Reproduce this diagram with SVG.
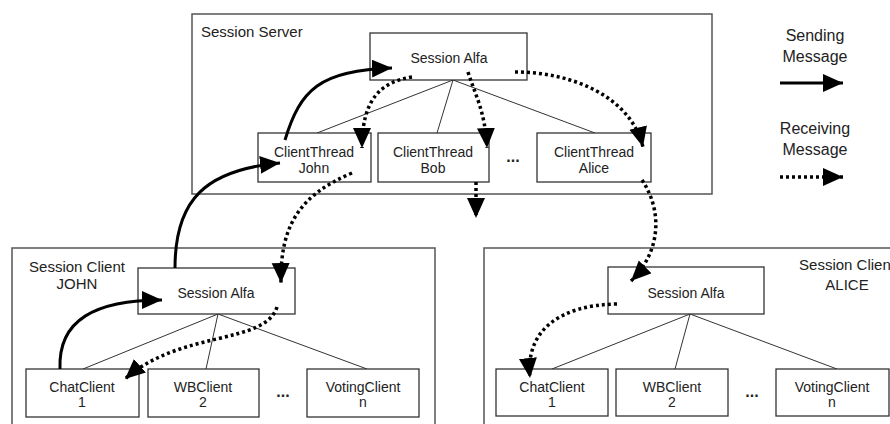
<svg xmlns="http://www.w3.org/2000/svg" width="890" height="424" viewBox="0 0 890 424">
<style>
.frame{fill:none;stroke:#555;stroke-width:1.5}
.box{fill:#fff;stroke:#333;stroke-width:1.3}
.link{stroke:#333;stroke-width:1;fill:none}
.send{stroke:#000;stroke-width:3;fill:none}
.recv{stroke:#000;stroke-width:3.5;fill:none;stroke-dasharray:3 3}
text{font-family:"Liberation Sans",Arial,sans-serif;font-size:14px;fill:#222}
.c{text-anchor:middle}
.lg{font-size:16px}
.dots{font-size:16px;font-weight:bold}
</style>
<defs>
<marker id="ah" markerUnits="userSpaceOnUse" markerWidth="22" markerHeight="20" refX="20" refY="9" orient="auto" viewBox="0 0 22 20">
<path d="M0,0 L20,9 L0,18 z" fill="#000"/>
</marker>
</defs>
<rect width="890" height="424" fill="#fff"/>

<g id="session-server">
<rect class="frame" x="192" y="14" width="520" height="180"/>
<text x="201" y="37" style="font-size:15px">Session Server</text>
</g>
<g id="session-client-john">
<rect class="frame" x="12" y="248" width="423" height="200"/>
<text class="c" x="77" y="272" style="font-size:15px">Session Client</text>
<text class="c" x="77" y="289" style="font-size:15px">JOHN</text>
</g>
<g id="session-client-alice">
<rect class="frame" x="484" y="248" width="420" height="200"/>
<text class="c" x="847" y="270" style="font-size:15px">Session Client</text>
<text class="c" x="847" y="290" style="font-size:15px">ALICE</text>
</g>

<g id="links">
<path class="link" d="M453,80 L317,133 M453,80 L437,133 M453,80 L595,133"/>
<path class="link" d="M218,314 L83,369 M218,314 L206,369 M218,314 L367,369"/>
<path class="link" d="M690,314 L552,369 M690,314 L675,369 M690,314 L837,369"/>
</g>

<g id="server-alfa">
<rect class="box" x="370" y="33" width="157" height="47"/>
<text class="c" x="449" y="63">Session Alfa</text>
</g>
<g id="ct-john">
<rect class="box" x="258" y="133" width="113" height="49"/>
<text class="c" x="314" y="157">ClientThread</text>
<text class="c" x="314" y="173">John</text>
</g>
<g id="ct-bob">
<rect class="box" x="378" y="133" width="111" height="49"/>
<text class="c" x="433" y="157">ClientThread</text>
<text class="c" x="433" y="173">Bob</text>
</g>
<text class="dots c" x="513" y="162">...</text>
<g id="ct-alice">
<rect class="box" x="537" y="133" width="114" height="49"/>
<text class="c" x="594" y="157">ClientThread</text>
<text class="c" x="594" y="173">Alice</text>
</g>

<g id="john-alfa">
<rect class="box" x="138" y="268" width="157" height="46"/>
<text class="c" x="216" y="298">Session Alfa</text>
</g>
<g id="john-chat">
<rect class="box" x="26" y="369" width="113" height="48"/>
<text class="c" x="82" y="392">ChatClient</text>
<text class="c" x="82" y="407">1</text>
</g>
<g id="john-wb">
<rect class="box" x="148" y="369" width="111" height="48"/>
<text class="c" x="203" y="392">WBClient</text>
<text class="c" x="203" y="407">2</text>
</g>
<text class="dots c" x="283" y="397">...</text>
<g id="john-voting">
<rect class="box" x="307" y="369" width="112" height="48"/>
<text class="c" x="363" y="392">VotingClient</text>
<text class="c" x="363" y="407">n</text>
</g>

<g id="alice-alfa">
<rect class="box" x="608" y="267" width="156" height="47"/>
<text class="c" x="686" y="298">Session Alfa</text>
</g>
<g id="alice-chat">
<rect class="box" x="496" y="369" width="112" height="47"/>
<text class="c" x="552" y="392">ChatClient</text>
<text class="c" x="552" y="407">1</text>
</g>
<g id="alice-wb">
<rect class="box" x="616" y="369" width="112" height="47"/>
<text class="c" x="672" y="392">WBClient</text>
<text class="c" x="672" y="407">2</text>
</g>
<text class="dots c" x="752" y="397">...</text>
<g id="alice-voting">
<rect class="box" x="776" y="369" width="113" height="47"/>
<text class="c" x="832" y="392">VotingClient</text>
<text class="c" x="832" y="407">n</text>
</g>

<g id="connectors">
<path class="send" marker-end="url(#ah)" d="M60,369 C58,320 95,300 162,300"/>
<path class="send" marker-end="url(#ah)" d="M175,268 C175,200 205,170 280,163"/>
<path class="send" marker-end="url(#ah)" d="M285,140 C300,90 320,70 392,68"/>
<path class="recv" marker-end="url(#ah)" d="M412,77 C380,82 362,100 362,148"/>
<path class="recv" marker-end="url(#ah)" d="M468,72 C475,95 485,110 487,148"/>
<path class="recv" marker-end="url(#ah)" d="M515,72 C570,72 630,95 643,147"/>
<path class="recv" marker-end="url(#ah)" d="M476,182 L476,218"/>
<path class="recv" marker-end="url(#ah)" d="M352,173 C300,195 280,225 281,283"/>
<path class="recv" marker-end="url(#ah)" d="M277,307 C265,345 180,330 125,379"/>
<path class="recv" marker-end="url(#ah)" d="M642,180 C662,210 662,250 631,281"/>
<path class="recv" marker-end="url(#ah)" d="M617,304 C560,305 525,330 530,378"/>
</g>

<g id="legend">
<text class="c lg" x="815" y="41">Sending</text>
<text class="c lg" x="815" y="62">Message</text>
<path class="send" marker-end="url(#ah)" d="M780,83 L843,83"/>
<text class="c lg" x="815" y="134">Receiving</text>
<text class="c lg" x="815" y="155">Message</text>
<path class="recv" marker-end="url(#ah)" d="M780,177 L843,177"/>
</g>
</svg>
